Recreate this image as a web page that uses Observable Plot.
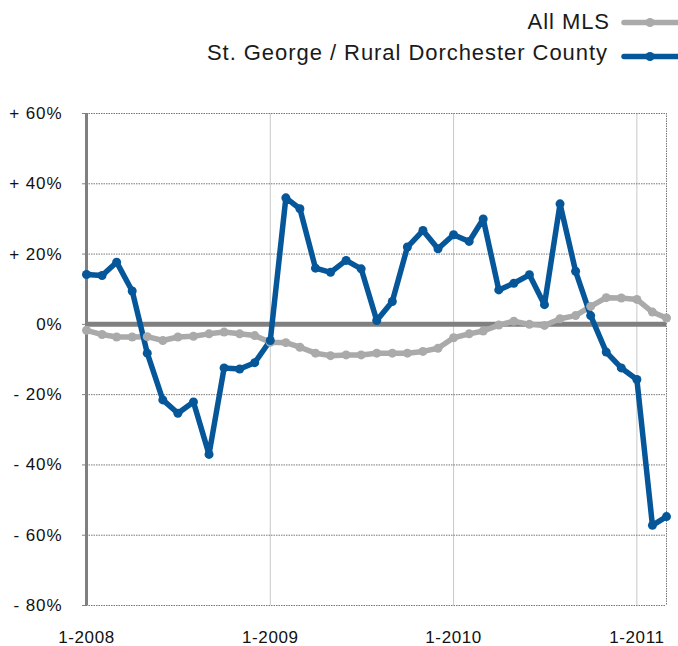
<!DOCTYPE html>
<html>
<head>
<meta charset="utf-8">
<script src="https://cdn.jsdelivr.net/npm/d3@7"></script>
<script src="https://cdn.jsdelivr.net/npm/@observablehq/plot@0.6"></script>
<style>
  html, body { margin: 0; padding: 0; background: #fff; }
  #wrap { position: relative; width: 678px; height: 646px; font-family: "Liberation Sans", Arial, sans-serif; }
  #wrap svg.legend { position: absolute; left: 0; top: 0; }
  #wrap g[aria-label="y-axis tick label"] text { letter-spacing: 0.9px; }
  #wrap g[aria-label="x-axis tick label"] text { letter-spacing: 0.6px; }
</style>
</head>
<body>
<div id="wrap"></div>
<script>
const seriesNames = ["All MLS", "St. George / Rural Dorchester County"];
const seriesColors = ["#aaaaaa", "#06579a"];
const startYear = 2008, startMonth = 0; // Jan 2008, monthly through Mar 2011
const allMLS = [-1.7, -2.9, -3.6, -3.6, -3.5, -4.6, -3.6, -3.4, -2.7, -2.2, -2.7, -3.2, -5.1,
  -5.2, -6.5, -8.2, -8.9, -8.7, -8.7, -8.2, -8.2, -8.2, -7.7, -6.8, -3.8,
  -2.7, -1.9, -0.2, 0.9, 0.0, -0.3, 1.6, 2.5, 5.1, 7.6, 7.5, 7.1, 3.5, 1.8];
const stGeorge = [14.2, 13.9, 17.7, 9.5, -8.2, -21.5, -25.3, -22.1, -37.0, -12.4, -12.7, -10.9, -4.6,
  36.0, 32.9, 16.0, 14.8, 18.2, 15.8, 1.1, 6.5, 22.0, 26.7, 21.5, 25.5,
  23.6, 30.0, 9.8, 11.7, 14.1, 5.6, 34.3, 15.1, 2.5, -7.9, -12.4, -15.7, -57.2, -54.7];
const yTicks = [-80, -60, -40, -20, 0, 20, 40, 60];
const xTickLabels = ["1-2008", "1-2009", "1-2010", "1-2011"];

const monthDate = i => new Date(Date.UTC(startYear, startMonth + i, 1));
const rows = [];
[allMLS, stGeorge].forEach((arr, s) => arr.forEach((v, i) => rows.push({date: monthDate(i), value: v, series: seriesNames[s]})));
const xTicks = xTickLabels.map(t => new Date(Date.UTC(+t.split("-")[1], +t.split("-")[0] - 1, 1)));
const fmtY = d => d > 0 ? "+ " + d + "%" : d < 0 ? "- " + (-d) + "%" : "0%";
const xEnd = monthDate(allMLS.length - 1);

const chart = Plot.plot({
  width: 678, height: 646,
  marginLeft: 86, marginRight: 12, marginTop: 113, marginBottom: 41,
  style: {fontFamily: "Liberation Sans, Arial, sans-serif", fontSize: "17px", color: "#111", background: "#fff"},
  x: {type: "utc", domain: [monthDate(0), xEnd], label: null},
  y: {domain: [-80, 60], label: null},
  color: {domain: seriesNames, range: seriesColors},
  marks: [
    Plot.ruleX(xTicks.slice(1), {stroke: "#c8c8c8", strokeWidth: 1}),
    Plot.ruleY(yTicks.filter(d => d !== 0), {stroke: "#777777", strokeWidth: 1, strokeDasharray: "1.5 1"}),
    Plot.ruleX([xEnd], {stroke: "#777777", strokeWidth: 1, strokeDasharray: "1.5 1"}),
    Plot.ruleY([0], {stroke: "#808080", strokeWidth: 5}),
    Plot.ruleX([monthDate(0)], {stroke: "#808080", strokeWidth: 3}),
    Plot.axisY({ticks: yTicks, tickFormat: fmtY, tickSize: 4, tickPadding: 20, stroke: "#808080", fontSize: 17, label: null}),
    Plot.axisX({ticks: xTicks, tickFormat: (d, i) => xTickLabels[i], tickSize: 0, tickPadding: 25, fontSize: 17, label: null}),
    Plot.line(rows, {x: "date", y: "value", z: "series", stroke: "series", strokeWidth: 5.5, strokeLinejoin: "round", strokeLinecap: "round"}),
    Plot.dot(rows, {x: "date", y: "value", fill: "series", r: 4.5})
  ]
});
const wrap = document.getElementById("wrap");
wrap.appendChild(chart);

// legend overlay
const legendRows = [{baseline: 29, textEnd: 610, lineY: 22.5}, {baseline: 60, textEnd: 608, lineY: 56.5}];
const leg = d3.select(wrap).append("svg").attr("class", "legend").attr("width", 678).attr("height", 80);
seriesNames.forEach((name, i) => {
  const r = legendRows[i];
  leg.append("text").attr("x", r.textEnd).attr("y", r.baseline).attr("text-anchor", "end")
    .attr("font-family", "Liberation Sans, Arial, sans-serif").attr("font-size", 22).attr("fill", "#1a1a1a")
    .style("letter-spacing", "0.95px").text(name);
  leg.append("line").attr("x1", 624).attr("x2", 680).attr("y1", r.lineY).attr("y2", r.lineY)
    .attr("stroke", seriesColors[i]).attr("stroke-width", 5.5).attr("stroke-linecap", "round");
  leg.append("circle").attr("cx", 650).attr("cy", r.lineY).attr("r", 4.5).attr("fill", seriesColors[i]);
});
</script>
</body>
</html>
